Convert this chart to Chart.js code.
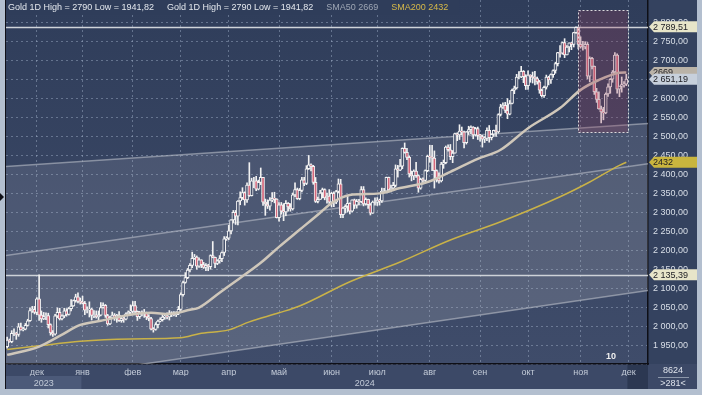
<!DOCTYPE html>
<html>
<head>
<meta charset="utf-8">
<script src="https://cdn.jsdelivr.net/npm/chart.js@4.4.1/dist/chart.umd.min.js"></script>
<style>
  html, body { margin: 0; padding: 0; background: #b3bfcf; }
  #wrap { width: 702px; height: 395px; }
</style>
</head>
<body>
<div id="wrap"><canvas id="goldChart" width="702" height="395"></canvas></div>
<script>
// ---------------------------
// Data (Gold, daily, XAU/USD)
// ---------------------------
const TOTAL_SLOTS = 281;                    // bars on the time axis (incl. empty future)
const START_DAY = Date.UTC(2023, 10, 14);   // first candle
const HOLIDAYS = ["2023-12-25", "2024-01-01"];
const MONTHS = ["янв", "фев", "мар", "апр", "май", "июн", "июл", "авг", "сен", "окт", "ноя", "дек"];

// [open, high, low, close]
const nov23 = [
  [1946,1971,1941.82,1963],[1963,1966,1957,1959],[1959,1988,1956,1981],[1981,1993,1975,1981],
  [1981,1984,1965,1978],[1978,2007,1973,1998],[1998,2008,1989,1990],[1990,1997,1987,1992],[1992,2007,1990,2002],
  [2002,2018,2000,2014],[2014,2048,2012,2041],[2041,2052,2036,2044],[2044,2052,2032,2036]
];
const dec23 = [
  [2036,2075,2030,2072],[2072,2135.39,2015,2029],[2029,2040,2010,2019],[2019,2036,2017,2025],[2025,2035,2017,2028],[2028,2034,1995,2004],
  [2004,2006,1976,1982],[1982,1988,1973,1979],[1979,2031,1976,2027],[2027,2048,2022,2036],[2036,2047,2016,2019],
  [2019,2030,2016,2027],[2027,2047,2022,2040],[2040,2046,2026,2031],[2031,2049,2029,2046],[2046,2070,2040,2053],
  [2053,2069,2052,2067],[2067,2084,2063,2077],[2077,2088,2061,2065],[2065,2074,2058,2063]
];
const jan24 = [
  [2063,2079,2058,2060],[2060,2065,2030,2042],[2042,2051,2035,2043],[2043,2064,2024,2045],
  [2045,2047,2016,2028],[2028,2041,2022,2030],[2030,2040,2021,2024],[2024,2040,2013,2029],[2029,2062,2027,2049],
  [2049,2061,2047,2055],[2055,2057,2023,2028],[2028,2031,2002,2006],[2006,2026,2004,2023],[2023,2037,2020,2029],
  [2029,2033,2015,2021],[2021,2031,2010,2029],[2029,2038,2012,2014],[2014,2023,2010,2020],[2020,2026,2010,2018],
  [2018,2035,2016,2032],[2032,2040,2029,2037],[2037,2056,2032,2039]
];
const feb24 = [
  [2039,2065,2034,2054],[2054,2065,2031,2039],
  [2039,2040,2015,2025],[2025,2039,2020,2035],[2035,2040,2027,2034],[2034,2044,2023,2034],[2034,2037,2017,2024],
  [2024,2030,2014,2020],[2020,2023,1990,1992],[1992,1996,1984,1991],[1991,2009,1989,2004],[2004,2016,1995,2013],
  [2013,2022,2011,2017],[2017,2032,2013,2024],[2024,2031,2018,2026],[2026,2035,2019,2024],[2024,2041,2016,2035],
  [2035,2038,2025,2031],[2031,2038,2027,2030],[2030,2038,2025,2034],[2034,2052,2030,2044]
];
const mar24 = [
  [2044,2088,2041,2083],
  [2083,2119,2079,2115],[2115,2141,2113,2128],[2128,2152,2125,2148],[2148,2165,2143,2160],[2160,2195,2154,2179],
  [2179,2189,2176,2182],[2182,2185,2150,2158],[2158,2180,2155,2175],[2175,2175,2154,2162],[2162,2168,2152,2155],
  [2155,2165,2146,2160],[2160,2163,2146,2157],[2157,2188,2150,2186],[2186,2223,2180,2181],[2181,2182,2154,2165],
  [2165,2175,2162,2172],[2172,2186,2166,2178],[2178,2196,2170,2194],[2194,2236,2186,2230],[2230,2236,2226,2232]
];
const apr24 = [
  [2232,2266,2228,2251],[2251,2281,2243,2280],[2280,2305,2273,2300],[2300,2305,2268,2290],[2290,2331,2267,2330],
  [2330,2354,2320,2339],[2339,2365,2334,2352],[2352,2354,2319,2333],[2333,2378,2326,2372],[2372,2431,2342,2344],
  [2344,2390,2343,2383],[2383,2392,2365,2383],[2383,2395,2357,2361],[2361,2385,2359,2379],[2379,2417,2373,2392],
  [2392,2392,2318,2327],[2327,2335,2292,2322],[2322,2333,2310,2316],[2316,2339,2306,2332],[2332,2352,2328,2337],
  [2337,2353,2325,2335],[2335,2336,2285,2286]
];
const may24 = [
  [2286,2326,2277,2320],[2320,2326,2295,2303],[2303,2323,2278,2301],
  [2301,2331,2291,2324],[2324,2326,2303,2314],[2314,2323,2303,2309],[2309,2351,2306,2346],[2346,2378,2341,2360],
  [2360,2364,2334,2336],[2336,2363,2333,2358],[2358,2392,2354,2386],[2386,2392,2370,2376],[2376,2423,2373,2415],
  [2415,2450,2413,2425],[2425,2428,2409,2421],[2421,2424,2374,2379],[2379,2392,2326,2329],[2329,2340,2325,2334],
  [2334,2358,2334,2351],[2351,2364,2338,2360],[2360,2362,2333,2338],[2338,2351,2324,2343],[2343,2360,2318,2327]
];
const jun24 = [
  [2327,2353,2314,2350],[2350,2354,2315,2327],[2327,2358,2323,2355],[2355,2388,2351,2375],[2375,2387,2286,2294],
  [2294,2313,2286,2311],[2311,2320,2298,2316],[2316,2342,2301,2324],[2324,2325,2296,2303],[2303,2333,2301,2333],
  [2333,2335,2310,2319],[2319,2334,2311,2329],[2329,2334,2320,2328],[2328,2368,2325,2360],[2360,2368,2317,2322],
  [2322,2338,2319,2334],[2334,2335,2310,2320],[2320,2323,2293,2298],[2298,2330,2297,2327],[2327,2338,2319,2327]
];
const jul24 = [
  [2327,2339,2318,2332],[2332,2335,2319,2330],[2330,2364,2326,2356],[2356,2363,2352,2356],[2356,2393,2352,2392],
  [2392,2393,2353,2359],[2359,2372,2354,2364],[2364,2379,2358,2371],[2371,2425,2367,2415],[2415,2424,2393,2411],
  [2411,2440,2410,2422],[2422,2470,2415,2469],[2469,2483,2456,2458],[2458,2469,2439,2445],[2445,2449,2393,2401],
  [2401,2409,2383,2396],[2396,2412,2386,2409],[2409,2432,2392,2397],[2397,2399,2353,2364],[2364,2390,2361,2387],
  [2387,2391,2375,2384],[2384,2412,2379,2410],[2410,2451,2407,2448]
];
const aug24 = [
  [2448,2477,2432,2446],[2446,2477,2410,2443],
  [2443,2462,2364,2410],[2410,2412,2380,2390],[2390,2404,2377,2383],[2383,2432,2380,2427],[2427,2438,2416,2431],
  [2431,2475,2428,2472],[2472,2478,2461,2465],[2465,2479,2439,2447],[2447,2463,2431,2456],[2456,2509,2456,2508],
  [2508,2510,2489,2504],[2504,2531,2492,2514],[2514,2525,2504,2512],[2512,2514,2470,2484],[2484,2513,2480,2512],
  [2512,2527,2505,2518],[2518,2528,2507,2525],[2525,2526,2494,2504],[2504,2524,2501,2521],[2521,2525,2492,2503]
];
const sep24 = [
  [2503,2506,2488,2500],[2500,2503,2472,2493],[2493,2500,2484,2495],[2495,2523,2489,2516],[2516,2529,2485,2497],
  [2497,2507,2491,2506],[2506,2517,2500,2516],[2516,2530,2500,2512],[2512,2560,2509,2558],[2558,2585,2554,2578],
  [2578,2589,2574,2582],[2582,2590,2563,2569],[2569,2600,2547,2559],[2559,2595,2557,2587],[2587,2625,2586,2622],
  [2622,2633,2613,2628],[2628,2664,2625,2657],[2657,2671,2652,2657],[2657,2685,2655,2672],[2672,2674,2642,2658],
  [2658,2663,2624,2634]
];
const oct24 = [
  [2634,2673,2624,2662],[2662,2663,2643,2658],[2658,2670,2641,2656],[2656,2672,2636,2653],
  [2653,2657,2638,2644],[2644,2648,2614,2622],[2622,2625,2604,2608],[2608,2633,2603,2630],[2630,2662,2625,2657],
  [2657,2659,2636,2649],[2649,2665,2640,2663],[2663,2676,2656,2674],[2674,2696,2667,2692],[2692,2722,2686,2721],
  [2721,2740,2709,2720],[2720,2749,2717,2748],[2748,2758,2708,2715],[2715,2740,2715,2736],[2736,2747,2723,2747],
  [2747,2748,2729,2743],[2743,2775,2736,2774],[2774,2789.51,2772,2788],[2788,2789,2731,2743]
];
const nov24 = [
  [2743,2763,2733,2736],
  [2736,2751,2728,2736],[2736,2750,2731,2743],[2743,2748,2652,2659],[2659,2710,2644,2706],[2706,2709,2678,2685],
  [2685,2686,2611,2618],[2618,2627,2590,2598],[2598,2618,2572,2573],[2573,2580,2536,2565],[2565,2577,2544,2562],
  [2562,2615,2560,2612],[2612,2639,2606,2631],[2631,2653,2614,2651],[2651,2674,2643,2670],[2670,2721,2667,2715],
  [2715,2718,2614,2625],[2625,2633,2605,2633],[2633,2657,2617,2637],[2637,2645,2630,2638],[2638,2664,2634,2651.19]
];

// moving averages (bar index -> value)
const sma50Idx = [0, 14, 23, 32, 41, 54, 63, 71, 80, 84, 93, 102, 111, 119, 128, 137, 141, 146, 150, 163, 172, 184, 194, 206, 216, 228, 242, 251, 259, 268, 271];
const sma50Val = [1924, 1946, 1974, 2003, 2014, 2030, 2035, 2032, 2043, 2049, 2088, 2127, 2167, 2209, 2254, 2299, 2320, 2338, 2346, 2350, 2364, 2380, 2407, 2441, 2465, 2522, 2575, 2623, 2649, 2668, 2669];
const sma200Idx = [0, 14, 32, 54, 76, 84, 97, 106, 119, 128, 150, 172, 194, 216, 242, 255, 268, 271];
const sma200Val = [1938, 1948, 1960, 1966, 1969, 1980, 1990, 2011, 2035, 2053, 2117, 2169, 2227, 2275, 2341, 2380, 2424, 2432];

// channel lines: [value at left edge, value at right edge]
const channelUpper = [2421, 2534];
const channelMiddle = [2186, 2428];
const channelLower = [1847, 2094];

// horizontal levels and the marked zone
const levelLines = [2789.51, 2135.39];
const zoneFrom = 249.9, zoneTo = 271.6, zoneTop = 2833, zoneBottom = 2510;

// ---------------------------
// Helpers
// ---------------------------
const candles = [].concat(nov23, dec23, jan24, feb24, mar24, apr24, may24, jun24, jul24, aug24, sep24, oct24, nov24);
const FONT = '"Liberation Sans", Arial, sans-serif';

function buildDays() {
  const days = [];
  let t = START_DAY;
  while (days.length < TOTAL_SLOTS) {
    const d = new Date(t);
    const wd = d.getUTCDay();
    if (wd !== 0 && wd !== 6 && !HOLIDAYS.includes(d.toISOString().slice(0, 10))) days.push(d);
    t += 86400000;
  }
  return days;
}

// 2750 -> "2 750,00"
function fmtPrice(v) {
  const [int, dec] = v.toFixed(2).split(".");
  return int.replace(/\B(?=(\d{3})+(?!\d))/g, " ") + "," + dec;
}

const days = buildDays();
const monthTicks = [];
const yearTicks = [];
days.forEach((d, i) => {
  if (i > 0 && d.getUTCMonth() !== days[i - 1].getUTCMonth()) monthTicks.push({ idx: i, label: MONTHS[d.getUTCMonth()] });
});
{
  let start = 0;
  for (let i = 1; i <= days.length; i++) {
    if (i === days.length || days[i].getUTCFullYear() !== days[start].getUTCFullYear()) {
      yearTicks.push({ idx: (start + i - 1) / 2, label: String(days[start].getUTCFullYear()), from: start, to: i - 1 });
      start = i;
    }
  }
}

const maxHigh = Math.max(...candles.map(c => c[1]));
const minLow = Math.min(...candles.map(c => c[2]));
const lastClose = candles[candles.length - 1][3];
const lastIdx = candles.length - 1;
const X_MIN = -0.5, X_MAX = TOTAL_SLOTS - 0.5;

// ---------------------------
// Plugins: backdrop and overlay
// ---------------------------
const backdrop = {
  id: "backdrop",
  beforeDraw(chart) {
    const { ctx, chartArea: a } = chart;
    const xs = chart.scales.x;
    ctx.save();
    ctx.fillStyle = "#b3bfcf";
    ctx.fillRect(0, 0, 702, 395);
    ctx.fillStyle = "#3c4967";
    ctx.fillRect(5, 0, 692, 389);
    const g = ctx.createLinearGradient(0, a.top, 0, a.bottom);
    g.addColorStop(0, "#2f3d5a");
    g.addColorStop(1, "#3f4c6a");
    ctx.fillStyle = g;
    ctx.fillRect(a.left, a.top, a.right - a.left, a.bottom - a.top);
    ctx.fillStyle = "#34425f";
    ctx.fillRect(a.right, 0, 697 - a.right, a.bottom);
    // year row: first (partial) year lighter
    const y0 = yearTicks[0];
    ctx.fillStyle = "#4c5a79";
    ctx.fillRect(a.left, a.bottom + 12, xs.getPixelForValue(y0.to + 0.5) - a.left, 13);
    // empty future part of the time axis
    ctx.fillStyle = "rgba(25,35,58,0.45)";
    const fx = xs.getPixelForValue(lastIdx + 0.5);
    ctx.fillRect(fx, a.bottom, a.right - fx, 25);
    // left edge
    ctx.fillStyle = "#101018";
    ctx.fillRect(5, 0, 1, 389);
    ctx.beginPath();
    ctx.moveTo(0, 193); ctx.lineTo(4, 197); ctx.lineTo(0, 201); ctx.closePath();
    ctx.fill();
    ctx.restore();
  },
  beforeDatasetsDraw(chart) {
    const { ctx, chartArea: a, scales: { y } } = chart;
    ctx.save();
    ctx.strokeStyle = "rgba(225,228,232,0.9)";
    ctx.lineWidth = 1.5;
    levelLines.forEach(v => {
      const py = Math.round(y.getPixelForValue(v)) + 0.5;
      ctx.beginPath(); ctx.moveTo(a.left, py); ctx.lineTo(a.right, py); ctx.stroke();
    });
    ctx.restore();
  }
};

function drawTag(ctx, py, text, fill) {
  const x0 = 649, x1 = 697, h = 11;
  ctx.beginPath();
  ctx.moveTo(x0, py);
  ctx.lineTo(x0 + 5, py - h / 2);
  ctx.lineTo(x1, py - h / 2);
  ctx.lineTo(x1, py + h / 2);
  ctx.lineTo(x0 + 5, py + h / 2);
  ctx.closePath();
  ctx.fillStyle = fill;
  ctx.fill();
  ctx.fillStyle = "#1c1c22";
  ctx.fillText(text, x0 + 4, py + 0.5);
}

const overlay = {
  id: "overlay",
  afterDatasetsDraw(chart) {
    const { ctx, scales: { x, y } } = chart;
    const l = x.getPixelForValue(zoneFrom), r = x.getPixelForValue(zoneTo);
    const t = y.getPixelForValue(zoneTop), b = y.getPixelForValue(zoneBottom);
    ctx.save();
    ctx.fillStyle = "rgba(150,60,90,0.28)";
    ctx.fillRect(l, t, r - l, b - t);
    ctx.strokeStyle = "rgba(235,235,235,0.9)";
    ctx.setLineDash([2, 2]);
    ctx.lineWidth = 1;
    ctx.strokeRect(Math.round(l) + 0.5, Math.round(t) + 0.5, Math.round(r - l), Math.round(b - t));
    ctx.restore();
  },
  afterDraw(chart) {
    const { ctx, chartArea: a, scales: { y } } = chart;
    ctx.save();
    ctx.font = "9px " + FONT;
    ctx.textBaseline = "middle";
    ctx.textAlign = "left";

    // title / legend strip
    const lowText = minLow.toFixed(2).replace(".", ",");
    const items = [
      { text: `Gold 1D High = ${Math.round(maxHigh)} Low = ${lowText}`, color: "#e4e8ee" },
      { text: `Gold 1D High = ${Math.round(maxHigh)} Low = ${lowText}`, color: "#e4e8ee" },
      { text: `SMA50 ${sma50Val[sma50Val.length - 1]}`, color: "#9ea6b4" },
      { text: `SMA200 ${sma200Val[sma200Val.length - 1]}`, color: "#d6b949" }
    ];
    let tx = 8;
    const widths = items.map(it => ctx.measureText(it.text).width);
    const total = widths.reduce((s, w) => s + w + 13, 0);
    ctx.fillStyle = "#2f3d5a";
    ctx.fillRect(a.left, 0, total, 15);
    items.forEach((it, k) => {
      ctx.fillStyle = it.color;
      ctx.fillText(it.text, tx, 8);
      tx += widths[k] + 13;
    });

    // price tags on the right scale
    drawTag(ctx, y.getPixelForValue(maxHigh), fmtPrice(maxHigh), "#e7e5c9");
    drawTag(ctx, y.getPixelForValue(sma50Val[sma50Val.length - 1]), String(sma50Val[sma50Val.length - 1]), "#bab3a8");
    drawTag(ctx, y.getPixelForValue(lastClose), fmtPrice(lastClose), "#c7d0dc");
    drawTag(ctx, y.getPixelForValue(sma200Val[sma200Val.length - 1]), String(sma200Val[sma200Val.length - 1]), "#c9b53e");
    drawTag(ctx, y.getPixelForValue(levelLines[1]), fmtPrice(levelLines[1]), "#e7e5c9");

    // bars counter box
    ctx.fillStyle = "#dfe4ec";
    ctx.textAlign = "center";
    ctx.fillText("8624", 673, 371);
    ctx.fillText(">" + TOTAL_SLOTS + "<", 673, 384);
    ctx.fillStyle = "#8c97aa";
    ctx.fillRect(658, 377, 31, 1);
    ctx.fillStyle = "#f0f0f0";
    ctx.font = "bold 9px " + FONT;
    ctx.fillText("10", 611, 357);
    ctx.restore();
  }
};

// ---------------------------
// Chart
// ---------------------------
const GRID = "rgba(165,180,205,0.45)";

const channel = (vals, fill, color) => ({
  type: "line",
  data: [{ x: X_MIN, y: vals[0] }, { x: X_MAX, y: vals[1] }],
  borderColor: "rgba(185,190,200,0.6)",
  borderWidth: 1.5,
  pointRadius: 0,
  fill: fill,
  backgroundColor: color,
  order: 20
});

// no label overhang: the plot must fill the canvas edge to edge
const noPad = s => { s.paddingTop = 0; s.paddingBottom = 0; s.paddingLeft = 0; s.paddingRight = 0; };

const chart = new Chart(document.getElementById("goldChart"), {
  type: "line",
  data: {
    datasets: [
      channel(channelUpper, "+1", "rgba(200,200,212,0.14)"),
      channel(channelMiddle, "+1", "rgba(200,200,205,0.20)"),
      channel(channelLower, false, "transparent"),
      {
        type: "bar",
        data: candles.map((c, i) => ({ x: i, y: [c[2], c[1]] })),
        backgroundColor: "#f2f2f2",
        barThickness: 1,
        grouped: false,
        order: 6
      },
      {
        type: "bar",
        data: candles.map((c, i) => ({ x: i, y: [c[0], c[3]] })),
        backgroundColor: ctx => {
          const c = candles[ctx.dataIndex];
          return c && c[3] < c[0] ? "#d4687c" : "#46516c";
        },
        borderColor: "#f2f2f2",
        borderWidth: 1,
        borderSkipped: false,
        barThickness: 3,
        grouped: false,
        order: 5
      },
      {
        type: "line",
        data: sma200Idx.map((v, k) => ({ x: v, y: sma200Val[k] })),
        borderColor: "#c9b248",
        borderWidth: 1.5,
        pointRadius: 0,
        cubicInterpolationMode: "monotone",
        fill: false,
        order: 3
      },
      {
        type: "line",
        data: sma50Idx.map((v, k) => ({ x: v, y: sma50Val[k] })),
        borderColor: "#cfc7ba",
        borderWidth: 2.5,
        pointRadius: 0,
        cubicInterpolationMode: "monotone",
        fill: false,
        order: 2
      }
    ]
  },
  options: {
    responsive: false,
    animation: false,
    devicePixelRatio: 1,
    layout: { autoPadding: false, padding: { left: 6, right: 5, top: 0, bottom: 6 } },
    plugins: { legend: { display: false }, tooltip: { enabled: false } },
    scales: {
      x: {
        type: "linear",
        position: "bottom",
        weight: 0,
        min: X_MIN,
        max: X_MAX,
        offset: false,
        afterBuildTicks: s => { s.ticks = monthTicks.map(m => ({ value: m.idx })); },
        afterFit: s => { s.height = 12; noPad(s); },
        ticks: {
          autoSkip: false,
          maxRotation: 0,
          padding: 3,
          color: "#c3cbd8",
          font: { family: FONT, size: 9 },
          callback: v => (monthTicks.find(m => m.idx === v) || {}).label || ""
        },
        grid: { color: GRID, drawTicks: false, offset: false },
        border: { display: true, color: "#0e0f16", width: 1.5, dash: [2, 3] }
      },
      x2: {
        type: "linear",
        position: "bottom",
        weight: 1,
        min: X_MIN,
        max: X_MAX,
        offset: false,
        afterBuildTicks: s => { s.ticks = yearTicks.map(m => ({ value: m.idx })); },
        afterFit: s => { s.height = 13; noPad(s); },
        ticks: {
          autoSkip: false,
          maxRotation: 0,
          padding: 2,
          color: "#c3cbd8",
          font: { family: FONT, size: 9 },
          callback: v => (yearTicks.find(m => m.idx === v) || {}).label || ""
        },
        grid: { display: false, drawTicks: false },
        border: { display: false }
      },
      y: {
        type: "linear",
        position: "right",
        min: 1900,
        max: 2860,
        beginAtZero: false,
        afterFit: s => { s.width = 49; noPad(s); },
        ticks: {
          stepSize: 50,
          includeBounds: false,
          padding: 5,
          color: "#d9dfe8",
          font: { family: FONT, size: 9 },
          callback: v => (v < 1950 || v > 2800 ? "" : fmtPrice(v))
        },
        grid: {
          drawTicks: false,
          color: c => (c.tick && c.tick.value > 2800 ? "rgba(0,0,0,0)" : GRID)
        },
        border: { display: true, color: "#0e0f16", width: 1.5, dash: [2, 3] }
      }
    }
  },
  plugins: [backdrop, overlay]
});
</script>
</body>
</html>
